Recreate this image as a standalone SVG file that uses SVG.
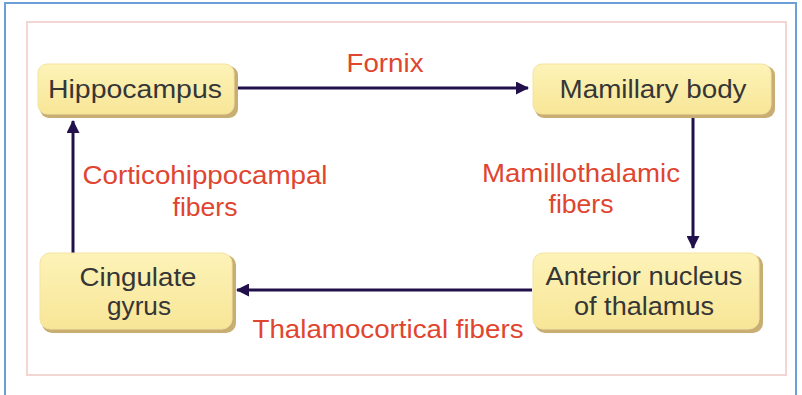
<svg xmlns="http://www.w3.org/2000/svg" width="802" height="395" viewBox="0 0 802 395">
<style>
.frame{fill:#ffffff;stroke:#6a9fd8;stroke-width:2}
.inner{fill:#ffffff;stroke:#f3d6d2;stroke-width:2}
.shadow{fill:#c9ae73}
.box{fill:url(#yg);stroke:#f3e3a0;stroke-width:1}
.nt{font-family:"Liberation Sans",Arial,sans-serif;font-size:26px;fill:#363636;text-anchor:middle}
.lt{font-family:"Liberation Sans",Arial,sans-serif;font-size:26px;fill:#e0452f;text-anchor:middle}
.conn{stroke:#22104d;stroke-width:3;fill:none}
</style>
<defs>
<linearGradient id="yg" x1="0" y1="0" x2="0" y2="1">
<stop offset="0" stop-color="#fdf3b8"/>
<stop offset="1" stop-color="#f8e697"/>
</linearGradient>
<marker id="ah" viewBox="0 0 13 13" refX="12" refY="6.5" markerWidth="13" markerHeight="13" markerUnits="userSpaceOnUse" orient="auto">
<path d="M0,0 L13,6.5 L0,13 Z" fill="#22104d"/>
</marker>
</defs>
<rect class="frame" x="5" y="3" width="791" height="400"/>
<rect class="inner" x="27" y="22" width="759" height="353"/>
<g id="connectors">
<line class="conn" x1="237" y1="88" x2="528" y2="88" marker-end="url(#ah)"/>
<line class="conn" x1="693" y1="117" x2="693" y2="248" marker-end="url(#ah)"/>
<line class="conn" x1="532" y1="290" x2="237" y2="290" marker-end="url(#ah)"/>
<line class="conn" x1="73" y1="253" x2="73" y2="121" marker-end="url(#ah)"/>
<text class="lt" x="385" y="72" textLength="77" lengthAdjust="spacingAndGlyphs">Fornix</text>
<text class="lt" x="581" y="182" textLength="198" lengthAdjust="spacingAndGlyphs">Mamillothalamic</text>
<text class="lt" x="581" y="213" textLength="65" lengthAdjust="spacingAndGlyphs">fibers</text>
<text class="lt" x="388" y="338" textLength="271" lengthAdjust="spacingAndGlyphs">Thalamocortical fibers</text>
<text class="lt" x="205" y="184" textLength="245" lengthAdjust="spacingAndGlyphs">Corticohippocampal</text>
<text class="lt" x="205" y="216" textLength="65" lengthAdjust="spacingAndGlyphs">fibers</text>
</g>
<g id="hippocampus">
<rect class="shadow" x="40" y="66" width="198" height="52" rx="9"/>
<rect class="box" x="38" y="64" width="196" height="50" rx="9"/>
<text class="nt" x="135" y="98" textLength="174" lengthAdjust="spacingAndGlyphs">Hippocampus</text>
</g>
<g id="mamillary">
<rect class="shadow" x="535" y="66" width="240" height="52" rx="9"/>
<rect class="box" x="533" y="64" width="238" height="50" rx="9"/>
<text class="nt" x="653" y="98" textLength="187" lengthAdjust="spacingAndGlyphs">Mamillary body</text>
</g>
<g id="anterior">
<rect class="shadow" x="535" y="255" width="228" height="78" rx="10"/>
<rect class="box" x="533" y="253" width="226" height="76" rx="10"/>
<text class="nt" x="644" y="285" textLength="197" lengthAdjust="spacingAndGlyphs">Anterior nucleus</text>
<text class="nt" x="644" y="315" textLength="140" lengthAdjust="spacingAndGlyphs">of thalamus</text>
</g>
<g id="cingulate">
<rect class="shadow" x="42" y="255" width="194" height="78" rx="10"/>
<rect class="box" x="40" y="253" width="192" height="76" rx="10"/>
<text class="nt" x="138" y="286" textLength="117" lengthAdjust="spacingAndGlyphs">Cingulate</text>
<text class="nt" x="139" y="315" textLength="64" lengthAdjust="spacingAndGlyphs">gyrus</text>
</g>
</svg>
